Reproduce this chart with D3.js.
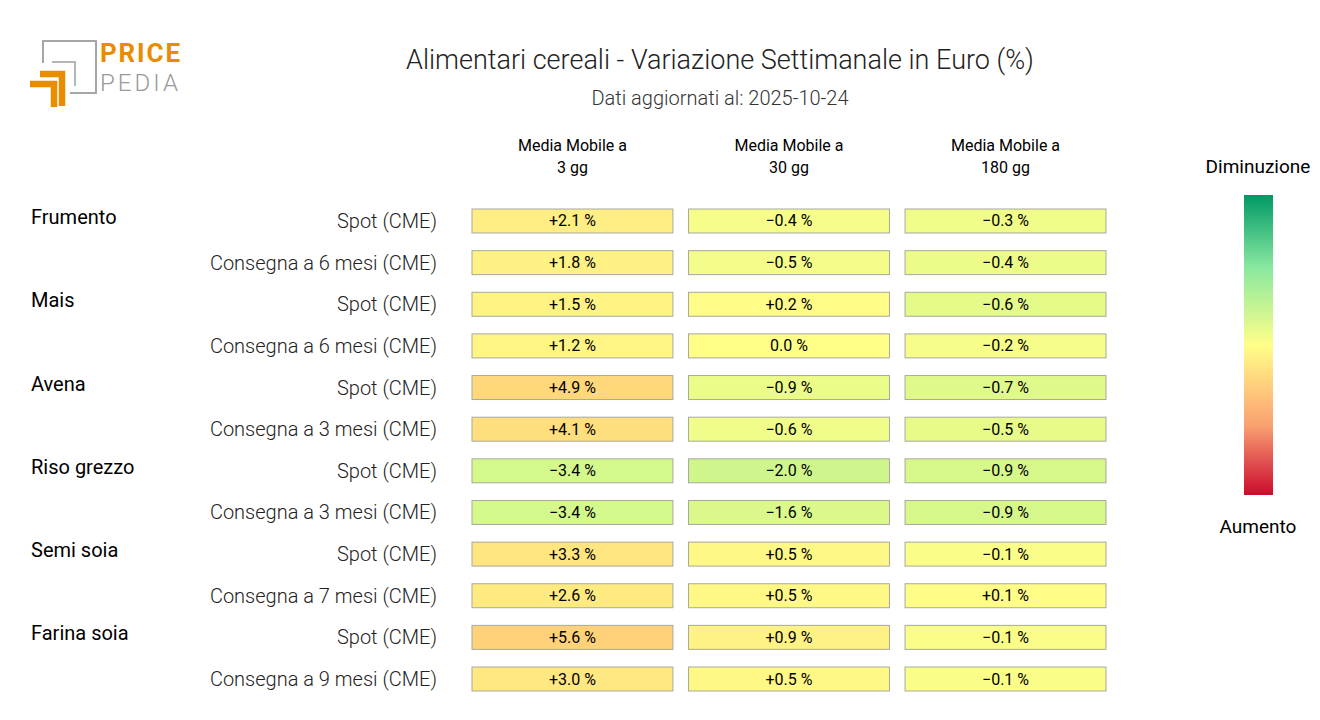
<!DOCTYPE html>
<html>
<head>
<meta charset="utf-8">
<script src="https://cdn.jsdelivr.net/npm/d3@7"></script>
<style>
  body { margin: 0; background: #fff; }
  svg text { font-family: Roboto, "Noto Sans", sans-serif; }
</style>
</head>
<body>
<svg id="chart" width="1320" height="720"></svg>
<script>
// dati
var groups = ["Frumento", "Mais", "Avena", "Riso grezzo", "Semi soia", "Farina soia"]
var rowLabels = [
  "Spot (CME)", "Consegna a 6 mesi (CME)",
  "Spot (CME)", "Consegna a 6 mesi (CME)",
  "Spot (CME)", "Consegna a 3 mesi (CME)",
  "Spot (CME)", "Consegna a 3 mesi (CME)",
  "Spot (CME)", "Consegna a 7 mesi (CME)",
  "Spot (CME)", "Consegna a 9 mesi (CME)"
]
var columns = ["Media Mobile a|3 gg", "Media Mobile a|30 gg", "Media Mobile a|180 gg"]
var mm3 = [2.1, 1.8, 1.5, 1.2, 4.9, 4.1, -3.4, -3.4, 3.3, 2.6, 5.6, 3.0]
var mm30 = [-0.4, -0.5, 0.2, 0.0, -0.9, -0.6, -2.0, -1.6, 0.5, 0.5, 0.9, 0.5]
var mm180 = [-0.3, -0.4, -0.6, -0.2, -0.7, -0.5, -0.9, -0.9, -0.1, 0.1, -0.1, -0.1]
var colorDomains = [11, 6, 3]   // ampiezza scala colore per colonna

var svg = d3.select("#chart")

// scale
var xScale = d3.scaleBand().domain(d3.range(3)).range([472, 1106]).paddingInner(0.072)
var yScale = d3.scaleBand().domain(d3.range(12)).range([209, 691]).paddingInner(0.424)

// rampa colore (0 = diminuzione, 1 = aumento)
var ramp = d3.scaleLinear()
  .domain([0, 0.2, 0.35, 0.5, 0.755, 0.86, 1])
  .range(["#009966", "#90e8a0", "#d6f88a", "#ffff88", "#ffd27a", "#f9a070", "#cc0c2b"])
  .clamp(true)

function cellColor(v, c) {
  var t = d3.scaleLinear().domain([-colorDomains[c], colorDomains[c]]).range([0, 1])
  return ramp(t(v))
}

// titolo
svg.append("text")
  .attr("x", 720).attr("y", 69)
  .attr("text-anchor", "middle")
  .style("font-size", "27px").style("font-weight", 300).style("fill", "#222")
  .text("Alimentari cereali - Variazione Settimanale in Euro (%)")

svg.append("text")
  .attr("x", 720).attr("y", 105)
  .attr("text-anchor", "middle")
  .style("font-size", "20px").style("font-weight", 300).style("fill", "#333")
  .text("Dati aggiornati al: 2025-10-24")

// logo
var logo = svg.append("g")
logo.append("path")
  .attr("d", "M43,63 V41 H96 V93 H70")
  .attr("fill", "none").attr("stroke", "#a6a6a6").attr("stroke-width", 2)
logo.append("path")
  .attr("d", "M52,62 H75 V86")
  .attr("fill", "none").attr("stroke", "#b5b5b5").attr("stroke-width", 2)
logo.append("path")
  .attr("d", "M40,74 H62 V106")
  .attr("fill", "none").attr("stroke", "#ea8c00").attr("stroke-width", 6.5)
logo.append("path")
  .attr("d", "M30,84 H54 V107")
  .attr("fill", "none").attr("stroke", "#ea8c00").attr("stroke-width", 6.5)
logo.append("text")
  .attr("x", 100).attr("y", 62)
  .attr("textLength", 80)
  .style("font-size", "26px").style("font-weight", 700).style("fill", "#ea8c00")
  .text("PRICE")
logo.append("text")
  .attr("x", 100).attr("y", 91)
  .attr("textLength", 78)
  .style("font-size", "24px").style("font-weight", 300).style("fill", "#999")
  .text("PEDIA")

// intestazioni colonne
var head = svg.append("g").selectAll("text")
  .data(columns)
  .enter()
  .append("text")
  .attr("text-anchor", "middle")
  .style("font-size", "16px").style("font-weight", 400).style("fill", "#000")
head.append("tspan")
  .attr("x", function(d, i) { return xScale(i) + xScale.bandwidth() / 2 })
  .attr("y", 151)
  .text(function(d) { return d.split("|")[0] })
head.append("tspan")
  .attr("x", function(d, i) { return xScale(i) + xScale.bandwidth() / 2 })
  .attr("y", 173)
  .text(function(d) { return d.split("|")[1] })

// etichette gruppi
svg.append("g").selectAll("text")
  .data(groups)
  .enter()
  .append("text")
  .attr("x", 31)
  .attr("y", function(d, i) { return yScale(i * 2) + yScale.bandwidth() / 2 + 3 })
  .style("font-size", "20px").style("font-weight", 400).style("fill", "#000")
  .text(function(d) { return d })

// etichette righe
svg.append("g").selectAll("text")
  .data(rowLabels)
  .enter()
  .append("text")
  .attr("x", 437)
  .attr("y", function(d, i) { return yScale(i) + yScale.bandwidth() / 2 + 7 })
  .attr("text-anchor", "end")
  .style("font-size", "20px").style("font-weight", 300).style("fill", "#222")
  .text(function(d) { return d })

// celle
var series = [mm3, mm30, mm180]
series.forEach(function(values, c) {
  var g = svg.append("g")
  g.selectAll("rect")
    .data(values)
    .enter()
    .append("rect")
    .attr("x", xScale(c))
    .attr("y", function(d, i) { return yScale(i) })
    .attr("width", xScale.bandwidth())
    .attr("height", yScale.bandwidth())
    .attr("fill", function(d) { return cellColor(d, c) })
    .attr("stroke", "#a8a8a0").attr("stroke-width", 1)
  g.selectAll("text")
    .data(values)
    .enter()
    .append("text")
    .attr("x", xScale(c) + xScale.bandwidth() / 2)
    .attr("y", function(d, i) { return yScale(i) + yScale.bandwidth() / 2 + 5.5 })
    .attr("text-anchor", "middle")
    .style("font-size", "16px").style("font-weight", 400).style("fill", "#000")
    .text(function(d) {
      var s = d.toFixed(1)
      if (d > 0) s = "+" + s
      else if (d < 0) s = "\u2212" + Math.abs(d).toFixed(1)
      return s + " %"
    })
})

// legenda colore
var defs = svg.append("defs")
var grad = defs.append("linearGradient")
  .attr("id", "legendGrad")
  .attr("x1", 0).attr("y1", 0).attr("x2", 0).attr("y2", 1)
var legendStops = [[0, "#009966"], [0.24, "#88e8a0"], [0.5, "#ffff88"], [0.67, "#ffc27a"], [0.77, "#f9a070"], [0.89, "#e05050"], [1, "#cc0c2b"]]
grad.selectAll("stop")
  .data(legendStops)
  .enter()
  .append("stop")
  .attr("offset", function(d) { return d[0] })
  .attr("stop-color", function(d) { return d[1] })

svg.append("rect")
  .attr("x", 1244).attr("y", 195)
  .attr("width", 29).attr("height", 300)
  .attr("fill", "url(#legendGrad)")

svg.append("text")
  .attr("x", 1258).attr("y", 173)
  .attr("text-anchor", "middle")
  .style("font-size", "19px").style("font-weight", 400).style("fill", "#000")
  .text("Diminuzione")
svg.append("text")
  .attr("x", 1258).attr("y", 533)
  .attr("text-anchor", "middle")
  .style("font-size", "19px").style("font-weight", 400).style("fill", "#000")
  .text("Aumento")
</script>
</body>
</html>
